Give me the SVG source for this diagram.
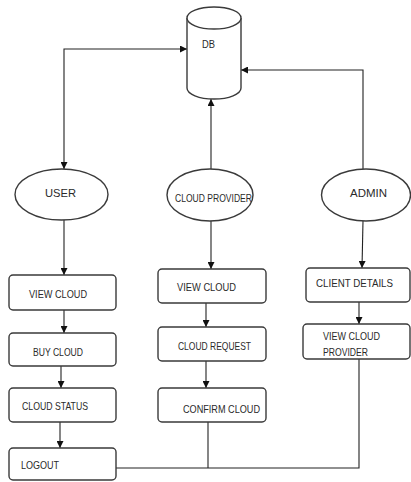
<svg xmlns="http://www.w3.org/2000/svg" width="411" height="482" viewBox="0 0 411 482">
<style>
.shape{fill:#fff;stroke:#3a3a3a;stroke-width:1.4}
.conn{fill:none;stroke:#222;stroke-width:1.1}
text{font-family:"Liberation Sans",Arial,sans-serif;font-size:11px;fill:#2a2a2a}
</style>
<defs>
<marker id="ah" viewBox="0 0 10 10" refX="10" refY="5" markerWidth="7" markerHeight="7" markerUnits="userSpaceOnUse" orient="auto-start-reverse">
<path d="M0,0 L10,5 L0,10 z" fill="#111"/>
</marker>
</defs>
<rect width="411" height="482" fill="#fff"/>
<g id="connectors">
<polyline class="conn" points="64,169 64,49 187,49" marker-start="url(#ah)" marker-end="url(#ah)"/>
<polyline class="conn" points="363,169 363,70 241,70" marker-end="url(#ah)"/>
<line class="conn" x1="211" y1="169" x2="211" y2="99" marker-end="url(#ah)"/>
<line class="conn" x1="64" y1="220" x2="64" y2="275" marker-end="url(#ah)"/>
<line class="conn" x1="211" y1="221" x2="211" y2="269" marker-end="url(#ah)"/>
<line class="conn" x1="363" y1="221" x2="362" y2="268" marker-end="url(#ah)"/>
<line class="conn" x1="64" y1="310" x2="64" y2="333" marker-end="url(#ah)"/>
<line class="conn" x1="61" y1="366" x2="61" y2="388" marker-end="url(#ah)"/>
<line class="conn" x1="60" y1="422" x2="60" y2="448" marker-end="url(#ah)"/>
<line class="conn" x1="206" y1="303" x2="206" y2="327" marker-end="url(#ah)"/>
<line class="conn" x1="206" y1="361" x2="206" y2="388" marker-end="url(#ah)"/>
<line class="conn" x1="359" y1="302" x2="359" y2="324" marker-end="url(#ah)"/>
<polyline class="conn" points="116,468 359,468 359,359"/>
<line class="conn" x1="208" y1="422" x2="208" y2="468"/>
</g>
<g id="db">
<path class="shape" d="M187,18 L187,88 A27,11 0 0 0 241,88 L241,18"/>
<ellipse class="shape" cx="214" cy="18" rx="27" ry="11"/>
<text x="202" y="48" textLength="13" lengthAdjust="spacingAndGlyphs">DB</text>
</g>
<g id="user">
<ellipse class="shape" cx="61.5" cy="194.5" rx="46.5" ry="25.5"/>
<text x="45" y="197" textLength="31" lengthAdjust="spacingAndGlyphs">USER</text>
</g>
<g id="cloud-provider">
<ellipse class="shape" cx="210" cy="195" rx="43" ry="26"/>
<text x="175" y="202" textLength="77" lengthAdjust="spacingAndGlyphs">CLOUD PROVIDER</text>
</g>
<g id="admin">
<ellipse class="shape" cx="366" cy="195" rx="44.5" ry="26"/>
<text x="350" y="197" textLength="37" lengthAdjust="spacingAndGlyphs">ADMIN</text>
</g>
<g id="user-view-cloud">
<rect class="shape" x="9" y="275" width="107" height="35" rx="4"/>
<text x="29" y="298" textLength="58" lengthAdjust="spacingAndGlyphs">VIEW CLOUD</text>
</g>
<g id="buy-cloud">
<rect class="shape" x="9" y="333" width="107" height="33" rx="4"/>
<text x="33" y="356" textLength="50" lengthAdjust="spacingAndGlyphs">BUY CLOUD</text>
</g>
<g id="cloud-status">
<rect class="shape" x="9" y="388" width="107" height="34" rx="4"/>
<text x="22" y="410" textLength="66" lengthAdjust="spacingAndGlyphs">CLOUD STATUS</text>
</g>
<g id="logout">
<rect class="shape" x="9" y="448" width="107" height="32" rx="4"/>
<text x="21" y="469" textLength="38" lengthAdjust="spacingAndGlyphs">LOGOUT</text>
</g>
<g id="cp-view-cloud">
<rect class="shape" x="158" y="269" width="108" height="34" rx="4"/>
<text x="177" y="291" textLength="59" lengthAdjust="spacingAndGlyphs">VIEW CLOUD</text>
</g>
<g id="cloud-request">
<rect class="shape" x="158" y="327" width="108" height="34" rx="4"/>
<text x="178" y="350" textLength="73" lengthAdjust="spacingAndGlyphs">CLOUD REQUEST</text>
</g>
<g id="confirm-cloud">
<rect class="shape" x="158" y="388" width="108" height="34" rx="4"/>
<text x="183" y="413" textLength="77" lengthAdjust="spacingAndGlyphs">CONFIRM CLOUD</text>
</g>
<g id="client-details">
<rect class="shape" x="306" y="268" width="104" height="34" rx="4"/>
<text x="316" y="287" textLength="77" lengthAdjust="spacingAndGlyphs">CLIENT DETAILS</text>
</g>
<g id="view-cloud-provider">
<rect class="shape" x="303" y="324" width="107" height="35" rx="4"/>
<text x="323" y="340" textLength="57" lengthAdjust="spacingAndGlyphs">VIEW CLOUD</text>
<text x="323" y="356" textLength="45" lengthAdjust="spacingAndGlyphs">PROVIDER</text>
</g>
</svg>
